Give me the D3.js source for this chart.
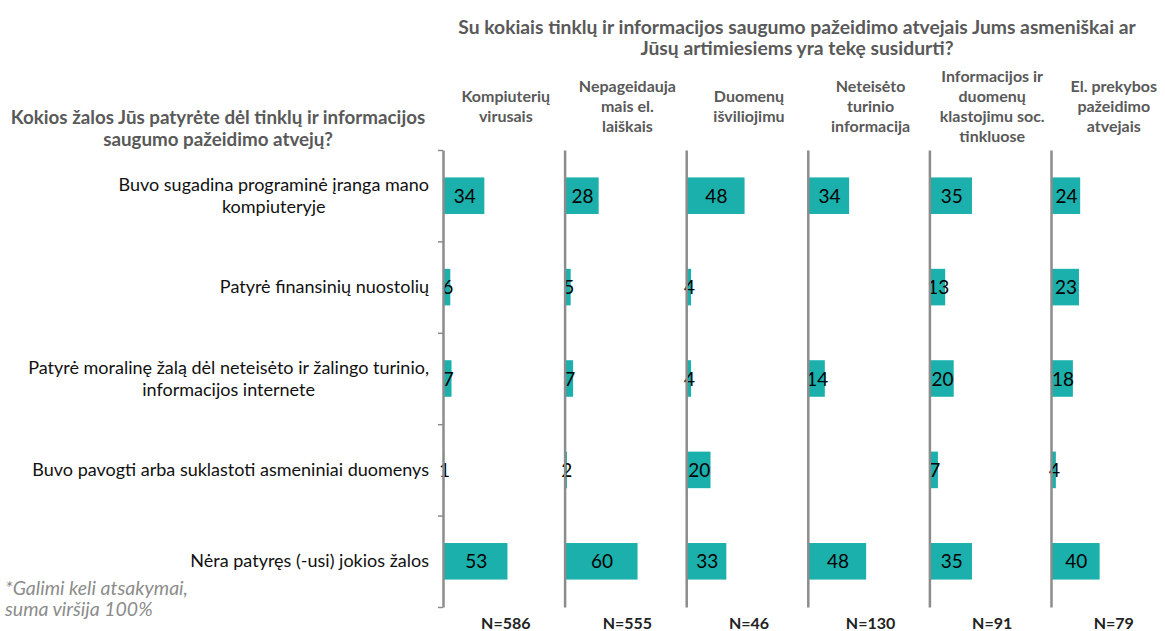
<!DOCTYPE html>
<html>
<head>
<meta charset="utf-8">
<script src="https://cdn.jsdelivr.net/npm/d3@7"></script>
<style>
  body { margin: 0; background: #fff; }
  text { font-family: Lato, "Open Sans", sans-serif; }
</style>
</head>
<body>
<div id="chart"></div>
<script>
// chart data
var groups = ["Kompiuterių virusais", "Nepageidaujamais el. laiškais", "Duomenų išviliojimu",
  "Neteisėto turinio informacija", "Informacijos ir duomenų klastojimu soc. tinkluose",
  "El. prekybos pažeidimo atvejais"];
var groupHeaders = [
  ["Kompiuterių", "virusais"],
  ["Nepageidauja", "mais el.", "laiškais"],
  ["Duomenų", "išviliojimu"],
  ["Neteisėto", "turinio", "informacija"],
  ["Informacijos ir", "duomenų", "klastojimu soc.", "tinkluose"],
  ["El. prekybos", "pažeidimo", "atvejais"]
];
var sampleSizes = ["N=586", "N=555", "N=46", "N=130", "N=91", "N=79"];
var rows = [
  ["Buvo sugadina programinė įranga mano", "kompiuteryje"],
  ["Patyrė finansinių nuostolių"],
  ["Patyrė moralinę žalą dėl neteisėto ir žalingo turinio,", "informacijos internete"],
  ["Buvo pavogti arba suklastoti asmeniniai duomenys"],
  ["Nėra patyręs (-usi) jokios žalos"]
];
var values = [
  [34, 6, 7, 1, 53],
  [28, 5, 7, 2, 60],
  [48, 4, 4, 20, 33],
  [34, null, 14, null, 48],
  [35, 13, 20, 7, 35],
  [24, 23, 18, 4, 40]
];
var title = ["Su kokiais tinklų ir informacijos saugumo pažeidimo atvejais Jums asmeniškai ar",
  "Jūsų artimiesiems yra tekę susidurti?"];
var rowTitle = ["Kokios žalos Jūs patyrėte dėl tinklų ir informacijos", "saugumo pažeidimo atvejų?"];
var footnote = ["*Galimi keli atsakymai,", "suma viršija 100%"];

var width = 1165, height = 631;
var barColor = "#1bb0ac", axisColor = "#8c8c8c", headColor = "#595959";

var svg = d3.select("#chart").append("svg")
  .attr("width", width)
  .attr("height", height);

// panels side by side
var panelX = d3.scaleBand().domain(d3.range(groups.length)).range([443, 443 + 6 * 121.6]);
var xVal = d3.scaleLinear().domain([0, 100]).range([0, panelX.bandwidth()]);
var yRow = d3.scaleBand().domain(d3.range(rows.length)).range([150, 607])
  .paddingInner(0.6).paddingOuter(0.3);
var yTick = d3.scaleLinear().domain([0, rows.length]).range([150, 607]);

// title
svg.append("g").selectAll("text").data(title).enter().append("text")
  .attr("x", 797).attr("y", function(d, i) { return 34 + i * 21; })
  .attr("text-anchor", "middle")
  .style("font-size", "19.3px").style("font-weight", "bold").style("fill", headColor)
  .text(function(d) { return d; });

// left header
svg.append("g").selectAll("text").data(rowTitle).enter().append("text")
  .attr("x", 218).attr("y", function(d, i) { return 124 + i * 22; })
  .attr("text-anchor", "middle")
  .style("font-size", "18.8px").style("font-weight", "bold").style("fill", headColor)
  .text(function(d) { return d; });

// footnote
svg.append("g").selectAll("text").data(footnote).enter().append("text")
  .attr("x", 5).attr("y", function(d, i) { return 595 + i * 21; })
  .style("font-size", "19.5px").style("font-style", "italic").style("fill", "#8c8c8c")
  .text(function(d) { return d; });

// row labels: centered lines, block right edge at 430
rows.forEach(function(lines, r) {
  var g = svg.append("g");
  var t = g.selectAll("text").data(lines).enter().append("text")
    .attr("y", function(d, i) { return yRow(r) + yRow.bandwidth() / 2 + 6 + (i - (lines.length - 1) / 2) * 22; })
    .attr("text-anchor", "middle")
    .style("font-size", "18px").style("fill", "#111")
    .text(function(d) { return d; });
  var maxW = d3.max(t.nodes(), function(n) { return n.getComputedTextLength(); });
  t.attr("x", 429 - maxW / 2);
});

groups.forEach(function(name, p) {
  var x0 = panelX(p);
  var mid = panelX.bandwidth() / 2 + 2;
  var g = svg.append("g").attr("transform", "translate(" + x0 + ",0)");

  // header
  var hd = groupHeaders[p];
  g.selectAll(".head").data(hd).enter().append("text")
    .attr("class", "head")
    .attr("x", mid)
    .attr("y", function(d, i) { return 112 + (i - (hd.length - 1) / 2) * 20; })
    .attr("text-anchor", "middle")
    .style("font-size", "16px").style("font-weight", "bold").style("fill", headColor)
    .text(function(d) { return d; });

  // bars
  var data = values[p].map(function(v, i) { return { v: v, i: i }; })
    .filter(function(d) { return d.v != null; });
  g.selectAll("rect").data(data).enter().append("rect")
    .attr("x", xVal(0))
    .attr("y", function(d) { return yRow(d.i); })
    .attr("width", function(d) { return xVal(d.v); })
    .attr("height", yRow.bandwidth())
    .attr("fill", barColor);

  g.selectAll(".val").data(data).enter().append("text")
    .attr("class", "val")
    .attr("x", function(d) { return xVal(d.v) / 2 + 1; })
    .attr("y", function(d) { return yRow(d.i) + yRow.bandwidth() / 2 + 7; })
    .attr("text-anchor", "middle")
    .style("font-size", "19px").style("fill", "#000")
    .text(function(d) { return d.v; });

  // axis line
  var axis = d3.axisLeft(yTick).ticks(rows.length).tickFormat("")
    .tickSizeInner(p === 0 ? 5 : 0).tickSizeOuter(0);
  var ag = g.append("g").call(axis);
  ag.select(".domain").attr("stroke", axisColor).attr("stroke-width", 2.5);
  ag.selectAll(".tick line").attr("stroke", axisColor).attr("stroke-width", 1.5);

  // sample size
  g.append("text")
    .attr("x", mid).attr("y", 629)
    .attr("text-anchor", "middle")
    .style("font-size", "16px").style("font-weight", "bold").style("fill", "#222")
    .text(sampleSizes[p]);
});
</script>
</body>
</html>
